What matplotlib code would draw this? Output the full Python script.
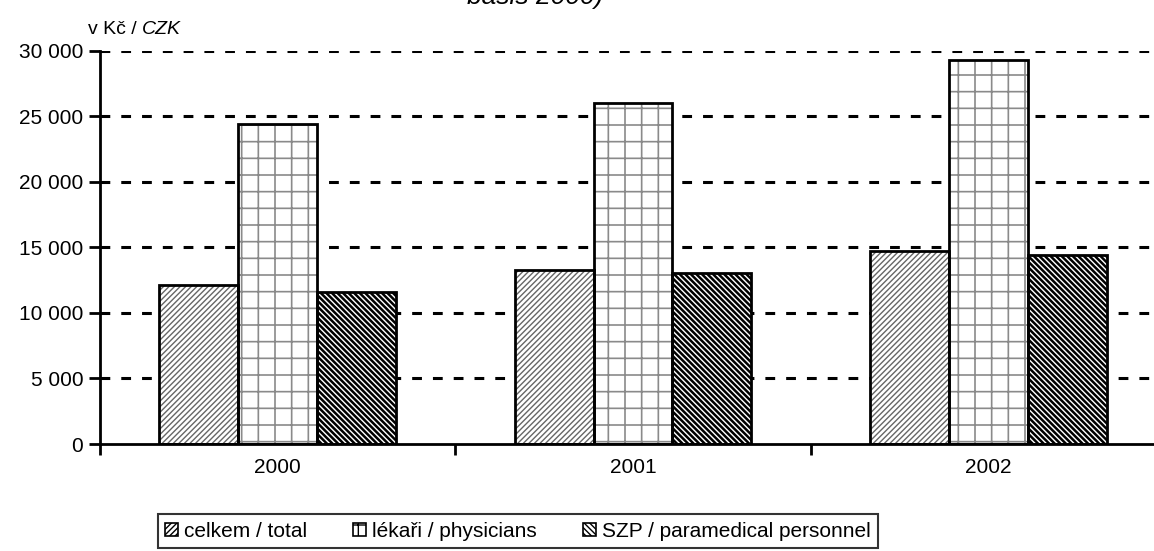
import numpy as np
import matplotlib
matplotlib.use("Agg")
import matplotlib.pyplot as plt
from matplotlib.ticker import FuncFormatter

# data
years = ["2000", "2001", "2002"]
celkem = [12100, 13270, 14720]
lekari = [24400, 26000, 29300]
szp = [11600, 13040, 14420]
series_labels = ["celkem / total", "lékaři / physicians", "SZP / paramedical personnel"]
y_ticks = [0, 5000, 10000, 15000, 20000, 25000, 30000]

plt.rcParams['font.family'] = ['Liberation Sans', 'DejaVu Sans']
plt.rcParams['hatch.linewidth'] = 1.0
fs = 15

W, H = 1154, 551
fig = plt.figure(figsize=(W / 100, H / 100), dpi=100, facecolor='white')
ax = fig.add_axes([100 / W, 1 - 444 / H, 1066 / W, (444 - 50.7) / H])

x = np.arange(len(years))
w = 1 / 4.5
series = [celkem, lekari, szp]
hatches = ['//////', '+', '\\\\\\\\\\\\']
hcolors = ['#666666', '#8a8a8a', 'black']
hwidths = [1.0, 1.2, 1.8]

handles = []
for i, (vals, hat, hc, hw) in enumerate(zip(series, hatches, hcolors, hwidths)):
    pos = x + (i - 1) * w
    # hatched fill, then a clean black outline on top
    bars = ax.bar(pos, vals, width=w, color='white', edgecolor=hc, hatch=hat,
                  linewidth=0, zorder=3)
    for b in bars:
        if hasattr(b, 'set_hatch_linewidth'):
            b.set_hatch_linewidth(hw)
    ax.bar(pos, vals, width=w, color='none', edgecolor='black',
           linewidth=2, zorder=4)
    h = plt.Rectangle((0, 0), 1, 1, facecolor='white', edgecolor='black',
                      hatch=hat, linewidth=1.2)
    handles.append(h)

ax.set_xlim(-0.5, 2.5)
ax.set_ylim(0, 30000)
ax.set_yticks(y_ticks)
ax.yaxis.set_major_formatter(FuncFormatter(lambda v, p: f"{int(v):,}".replace(",", " ")))
ax.set_xticks(x)
ax.set_xticklabels(years)
ax.set_xticks([-0.5, 0.5, 1.5, 2.5], minor=True)
ax.tick_params(axis='x', which='major', length=0, pad=10, labelsize=fs)
ax.tick_params(axis='x', which='minor', length=8, width=2, direction='out')
ax.tick_params(axis='y', length=8, width=2, direction='out', labelsize=fs, pad=4)

for s in ['top', 'right']:
    ax.spines[s].set_visible(False)
for s in ['left', 'bottom']:
    ax.spines[s].set_linewidth(2)
    ax.spines[s].set_zorder(5)

for v in y_ticks[1:]:
    ax.axhline(v, color='black', linewidth=2.2, linestyle=(0, (3.2, 3.6)), zorder=1)

# y axis unit label
t = fig.text(88 / W, 1 - 34 / H, "v Kč / ", fontsize=14, va='baseline', ha='left')
fig.canvas.draw()
ax.annotate("CZK", xy=(1, 0), xycoords=t, va='bottom', ha='left',
            fontsize=14, style='italic')

# title, cut off by the top edge as in the source
fig.text(535 / W, 1 - 4 / H, "basis 2000)", fontsize=19, style='italic',
         ha='center', va='baseline')

leg = fig.legend(handles, series_labels, loc='lower left',
                 bbox_to_anchor=(158 / W, 1 - 548 / H, (878 - 158) / W, 37 / H),
                 mode='expand', ncol=3, fontsize=fs, frameon=True, fancybox=False,
                 edgecolor='black', handlelength=0.6, handleheight=0.6,
                 handletextpad=0.3, columnspacing=1.0, borderpad=0.35,
                 borderaxespad=0)
leg.get_frame().set_linewidth(1.5)

fig.savefig("out.png", dpi=100, facecolor='white')
